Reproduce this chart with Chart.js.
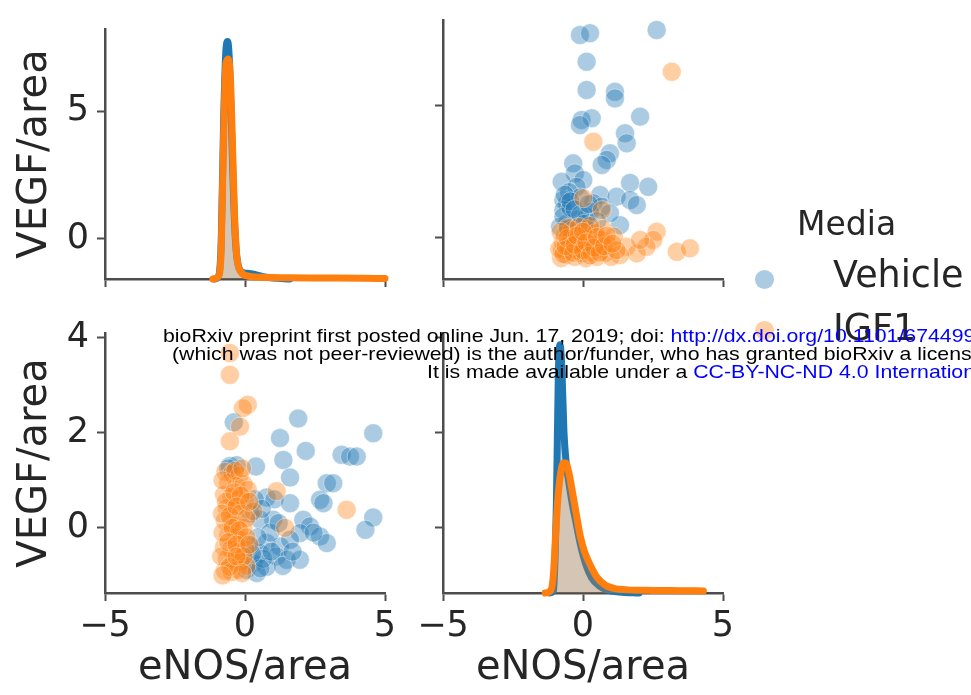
<!DOCTYPE html>
<html>
<head>
<meta charset="utf-8">
<title>eNOS / VEGF pair plot</title>
<script src="https://cdn.jsdelivr.net/npm/chart.js@4.4.1/dist/chart.umd.min.js"></script>
<style>
  html, body { margin: 0; padding: 0; background: #fff; }
  #page { position: relative; width: 971px; height: 695px; overflow: hidden; }
  #page canvas { position: absolute; left: 0; top: 0; }
  .leg { position: absolute; font-family: "DejaVu Sans", sans-serif; color: #262626; line-height: 1; white-space: nowrap; }
  .dot { position: absolute; width: 19px; height: 19px; border-radius: 50%; }
  .stamp { position: absolute; font-family: "Liberation Sans", Arial, sans-serif; font-size: 19px; line-height: 1;
           white-space: nowrap; color: #000; transform: scaleX(1.12); transform-origin: 0 0; }
  .stamp a { color: #0000ff; text-decoration: none; }
</style>
</head>
<body>
<div id="page">
  <canvas id="tl" width="971" height="695"></canvas>
  <canvas id="tr" width="971" height="695"></canvas>
  <canvas id="bl" width="971" height="695"></canvas>
  <canvas id="br" width="971" height="695"></canvas>

  <div class="leg" style="left:797px; top:207px; font-size:33px;">Media</div>
  <div class="dot" style="left:755px; top:270px; background:rgba(31,119,180,0.38);"></div>
  <div class="leg" style="left:833px; top:257px; font-size:36.5px;">Vehicle</div>
  <div class="dot" style="left:755px; top:321px; background:rgba(255,127,14,0.38);"></div>
  <div class="leg" style="left:833px; top:310px; font-size:36.5px;">IGF1</div>

  <div class="stamp" style="left:163px; top:326px;">bioRxiv preprint first posted online Jun. 17, 2019; doi: <a>http://dx.doi.org/10.1101/674499</a>. The copyright holder for this preprint</div>
  <div class="stamp" style="left:172px; top:344px;">(which was not peer-reviewed) is the author/funder, who has granted bioRxiv a license to display the preprint in perpetuity.</div>
  <div class="stamp" style="left:427px; top:362px;">It is made available under a <a>CC-BY-NC-ND 4.0 International license</a>.</div>
</div>

<script>
// axis limits and ticks
const xRange = [-5, 5];
const xTicks = [-5, 0, 5];
const topYRange = [-1.59, 8.22];
const topYTicks = [0, 5];
const bottomYRange = [-1.37, 4.1];
const bottomYTicks = [0, 2, 4];

// upper right scatter: eNOS/area vs VEGF/area
const trVehicleX = [-0.11, 0.25, 2.63, 0.13, 0.13, 1.14, 1.14, -0.05, 0.31, -0.11, 2.04, 1.5, 1.56, 0.96, 0.85,
  0.67, -0.35, -0.29, 0.01, -0.76, 1.68, 2.33, -0.23, 0.61, -0.7, -0.58, -0.7, 0.37, 0.67, 1.2, 1.68, 1.92,
  -0.82, -0.58, -0.23, 1.32, 0.13, -0.7, 0.25, 0.96, -0.45, -0.5, -0.1,
  -0.65, -0.45, -0.3, -0.1, 0.2, -0.55, 0.05, 0.5];
const trVehicleY = [7.65, 7.72, 7.84, 6.64, 5.57, 5.5, 5.25, 4.43, 4.5, 4.24, 4.56, 3.93, 3.55, 3.17, 2.92,
  2.73, 2.79, 2.41, 2.16, 2.09, 2.05, 1.9, 1.9, 1.59, 1.4, 1.28, 1.02, 1.28, 1.15, 1.53, 1.4, 1.21,
  0.39, 0.52, 0.64, 0.45, 0.77, 0.77, 0.95, 0.9, 1.1, 1.7, 1.5,
  1.6, 1.35, 1.05, 0.85, 1.25, 0.3, 0.5, 0.6];
const trIgf1X = [3.17, 0.37, 0.01, 0.67, 2.63, 2.51, 2.27, 3.35, 3.82, 1.56, 1.92, 1.32, 2.04,
  -0.78, -0.75, -0.72, -0.65, -0.6, -0.5, -0.45, -0.4, -0.3, -0.25, -0.18, -0.1, -0.05, 0.05, 0.1, 0.15,
  0.2, 0.3, 0.35, 0.45, 0.5, 0.55, 0.65, 0.7, 0.8, 0.9, 1.0, 1.1, -0.55, -0.15, 0.25, -0.85,
  -0.7, -0.62, -0.55, -0.35, -0.3, -0.22, 0.0, 0.0, 0.12, 0.25, 0.4, 0.5, 0.6, 0.75, 0.85, 1.2, 1.05, -0.8];
const trIgf1Y = [6.26, 3.61, 1.47, 1.02, 0.2, -0.11, -0.37, -0.56, -0.43, -0.37, -0.62, -0.68, -0.11,
  -0.8, -0.5, -0.2, 0.1, -0.68, -0.38, -0.08, 0.25, -0.75, -0.5, -0.2, 0.12, -0.62, -0.35, -0.8, 0.3,
  -0.05, -0.58, -0.28, 0.15, -0.75, -0.45, -0.1, 0.3, -0.6, -0.3, -0.75, 0.02, 0.35, 0.38, 0.42, -0.45,
  -0.65, -0.35, -0.05, -0.6, -0.3, 0.05, -0.5, 0.2, -0.2, -0.7, -0.4, 0.0, -0.6, -0.35, 0.05, -0.5, -0.25, 0.2];

// lower left scatter
const blVehicleX = [1.9, 1.25, 2.17, 1.37, 1.61, 0.39, 4.58, 3.45, 3.75, 3.99, 2.92, 3.15, 2.68, 2.8, 4.58,
  4.3, 0.77, 1.05, 1.61, 2.08, 2.32, 2.68, 2.92, 1.96, 1.01, 0.54, 0.77, 1.25, 1.61, 0.54, 1.13, 1.49,
  0.3, 0.77, 1.96, 0.42, 0.06, 0.18, -0.4, -0.54, 0.9, 0.35,
  0.45, 0.65, 0.95, 1.35, 0.55, 0.25, 1.7, 0.2, 0.6, 2.45, 1.2, -0.3, -0.6];
const blVehicleY = [2.3, 1.89, 1.62, 1.43, 1.06, 1.29, 1.99, 1.54, 1.5, 1.5, 0.94, 0.94, 0.59, 0.52, 0.22,
  -0.04, 0.64, 0.6, 0.52, 0.17, 0.03, -0.18, -0.32, -0.11, 0.17, 0.17, -0.32, -0.39, -0.25, -0.53, -0.6, -0.67,
  -0.74, -0.82, -0.67, -0.95, -0.88, -0.39, 2.22, 1.3, -0.1, 0.6,
  -0.2, -0.65, -0.5, -0.8, -0.85, -0.55, -0.5, 0.3, 0.4, -0.1, 0.1, 1.32, 1.25];
const blIgf1X = [-0.54, -0.54, 0.1, -0.07, -0.18, -0.54, 1.13, 1.43, 3.63,
  -0.7, -0.45, -0.2, -0.6, -0.3, -0.05, -0.75, -0.5, -0.25, 0.0, -0.65, -0.4, -0.15, -0.72, -0.5, -0.28,
  -0.05, -0.6, -0.35, -0.12, -0.75, -0.5, -0.25, 0.02, -0.65, -0.4, -0.15, -0.72, -0.48, -0.25, 0.05,
  0.3, 0.1,
  -0.8, -0.35, -0.1, -0.68, -0.38, -0.15, -0.82, -0.55, -0.3, 0.05, -0.8, -0.45, -0.2, 0.05, -0.85,
  -0.6, -0.3, -0.05, -0.55, -0.3, -0.8, -0.1, 0.15, 0.15];
const blIgf1Y = [3.68, 3.22, 2.59, 2.52, 2.13, 1.82, 0.77, 0.0, 0.38,
  1.18, 1.15, 1.1, 0.95, 0.88, 0.92, 0.7, 0.66, 0.6, 0.55, 0.42, 0.38, 0.3, 0.15, 0.1, 0.05,
  0.0, -0.15, -0.2, -0.25, -0.4, -0.45, -0.5, -0.45, -0.65, -0.7, -0.72, -0.9, -0.93, -0.88, -0.8,
  0.35, 0.8,
  1.0, 1.2, 1.25, 0.55, 0.75, 0.68, 0.3, 0.25, 0.45, 0.2, -0.1, 0.0, -0.05, -0.2, -0.6,
  -0.3, -0.35, -0.6, -0.82, -0.6, -1.0, -0.95, -0.35, 0.55];

// diagonal density curves (density axis scaled 0..1)
const tlKdeVehicleX = [-1.1, -0.95, -0.85, -0.76, -0.68, -0.62, -0.56, -0.48, -0.4, -0.32, -0.2, -0.05, 0.15, 0.35, 0.6, 1.0, 1.6];
const tlKdeVehicleD = [0, 0.01, 0.15, 0.65, 0.92, 0.95, 0.88, 0.6, 0.3, 0.12, 0.04, 0.025, 0.022, 0.018, 0.01, 0.004, 0];
const tlKdeIgf1X = [-1.15, -0.95, -0.85, -0.75, -0.68, -0.6, -0.52, -0.45, -0.38, -0.3, -0.15, 0.1, 0.6, 1.5, 3.0, 4.2, 5.0];
const tlKdeIgf1D = [0, 0.01, 0.12, 0.64, 0.86, 0.88, 0.8, 0.55, 0.28, 0.1, 0.03, 0.012, 0.007, 0.005, 0.004, 0.003, 0.002];
const brKdeVehicleX = [-1.2, -1.05, -0.95, -0.88, -0.82, -0.75, -0.68, -0.6, -0.5, -0.38, -0.25, -0.1, 0.1, 0.3, 0.55, 0.85, 1.3, 2.0];
const brKdeVehicleD = [0, 0.01, 0.35, 0.85, 0.955, 0.85, 0.62, 0.5, 0.42, 0.34, 0.27, 0.19, 0.11, 0.06, 0.03, 0.012, 0.004, 0];
const brKdeIgf1X = [-1.35, -1.15, -1.05, -0.98, -0.9, -0.8, -0.7, -0.62, -0.5, -0.38, -0.25, -0.1, 0.05, 0.25, 0.5, 0.8, 1.1, 1.6, 2.5, 3.5, 4.3];
const brKdeIgf1D = [0, 0.01, 0.08, 0.22, 0.36, 0.46, 0.5, 0.5, 0.46, 0.39, 0.31, 0.22, 0.16, 0.11, 0.06, 0.03, 0.018, 0.012, 0.01, 0.009, 0.008];

const AXIS = '#4d4d4d';
const TEXT = '#262626';
const BLUE = '31,119,180';
const ORANGE = '255,127,14';

Chart.defaults.font.family = "'DejaVu Sans', sans-serif";
Chart.defaults.color = TEXT;

function pairs(xs, ys) {
  return xs.map((x, i) => ({ x: x, y: ys[i] }));
}

function tickText(v) {
  return v < 0 ? '\u2212' + Math.abs(v) : String(v);
}

function xScale(showLabels, height) {
  return {
    type: 'linear',
    position: 'bottom',
    min: xRange[0],
    max: xRange[1],
    afterBuildTicks: s => { s.ticks = xTicks.map(v => ({ value: v })); },
    afterFit: s => { s.height = height; },
    border: { display: true, color: AXIS, width: 2.5 },
    grid: { drawOnChartArea: false, drawTicks: true, tickLength: 8, tickWidth: 2, tickColor: AXIS },
    ticks: { display: showLabels, padding: 5, color: TEXT, font: { size: 35 }, maxRotation: 0, callback: tickText },
    title: { display: showLabels, text: 'eNOS/area', color: TEXT, font: { size: 40 }, padding: { top: 0, bottom: 0 } }
  };
}

function yScale(range, ticks, showLabels, width) {
  return {
    type: 'linear',
    position: 'left',
    min: range[0],
    max: range[1],
    afterBuildTicks: s => { s.ticks = ticks.map(v => ({ value: v })); },
    afterFit: s => { s.width = width; },
    border: { display: true, color: AXIS, width: 2.5 },
    grid: { drawOnChartArea: false, drawTicks: true, tickLength: 8, tickWidth: 2, tickColor: AXIS },
    ticks: { display: showLabels, padding: 8, color: TEXT, font: { size: 35 }, callback: tickText },
    title: { display: showLabels, text: 'VEGF/area', color: TEXT, font: { size: 40 }, padding: { top: 7, bottom: 0 } }
  };
}

function scatterSet(label, xs, ys, rgb, order) {
  return {
    label: label,
    data: pairs(xs, ys),
    order: order,
    pointRadius: 9.5,
    pointBackgroundColor: 'rgba(' + rgb + ',0.38)',
    pointBorderColor: 'rgba(255,255,255,0.38)',
    pointBorderWidth: 1,
    clip: false
  };
}

function kdeSet(label, xs, ds, rgb, order) {
  return {
    label: label,
    data: pairs(xs, ds),
    yAxisID: 'yd',
    order: order,
    showLine: true,
    pointRadius: 0,
    borderColor: 'rgb(' + rgb + ')',
    borderWidth: 7,
    borderCapStyle: 'round',
    borderJoinStyle: 'round',
    cubicInterpolationMode: 'monotone',
    fill: 'origin',
    backgroundColor: 'rgba(' + rgb + ',0.25)',
    clip: false
  };
}

function panel(id, datasets, scales, padding) {
  return new Chart(document.getElementById(id), {
    type: 'scatter',
    data: { datasets: datasets },
    options: {
      responsive: false,
      animation: false,
      devicePixelRatio: 1,
      events: [],
      layout: { padding: padding },
      plugins: { legend: { display: false }, tooltip: { enabled: false } },
      scales: scales
    }
  });
}

const density = { type: 'linear', display: false, position: 'left', min: 0, max: 1 };

// top left: density of eNOS/area
panel('tl', [
  kdeSet('Vehicle', tlKdeVehicleX, tlKdeVehicleD, BLUE, 2),
  kdeSet('IGF1', tlKdeIgf1X, tlKdeIgf1D, ORANGE, 1)
], {
  x: xScale(false, 10),
  y: yScale(topYRange, topYTicks, true, 100),
  yd: density
}, { left: 5, top: 20, right: 586, bottom: 406 });

// top right: scatter
panel('tr', [
  scatterSet('Vehicle', trVehicleX, trVehicleY, BLUE, 2),
  scatterSet('IGF1', trIgf1X, trIgf1Y, ORANGE, 1)
], {
  x: xScale(false, 10),
  y: yScale(topYRange, topYTicks, false, 20)
}, { left: 423, top: 20, right: 248, bottom: 406 });

// bottom left: scatter
panel('bl', [
  scatterSet('Vehicle', blVehicleX, blVehicleY, BLUE, 2),
  scatterSet('IGF1', blIgf1X, blIgf1Y, ORANGE, 1)
], {
  x: xScale(true, 100),
  y: yScale(bottomYRange, bottomYTicks, true, 100)
}, { left: 5, top: 333, right: 586, bottom: 2 });

// bottom right: density
panel('br', [
  kdeSet('Vehicle', brKdeVehicleX, brKdeVehicleD, BLUE, 2),
  kdeSet('IGF1', brKdeIgf1X, brKdeIgf1D, ORANGE, 1)
], {
  x: xScale(true, 100),
  y: yScale(bottomYRange, bottomYTicks, false, 20),
  yd: density
}, { left: 423, top: 333, right: 248, bottom: 2 });
</script>
</body>
</html>
